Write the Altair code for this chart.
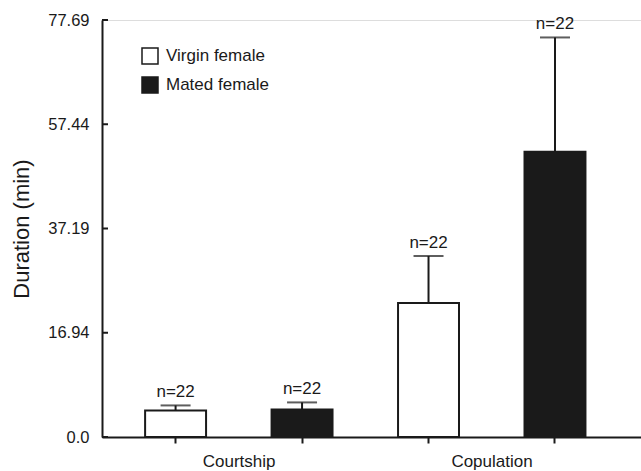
import altair as alt
import pandas as pd

behaviors = ["Courtship", "Courtship", "Copulation", "Copulation"]
groups = ["Virgin female", "Mated female", "Virgin female", "Mated female"]
means = [4.32, 4.48, 22.7, 52.1]
errors = [0.81, 1.14, 9.15, 22.2]
ns = ["n=22", "n=22", "n=22", "n=22"]
y_ticks = [0, 16.94, 37.19, 57.44, 77.69]
group_order = ["Virgin female", "Mated female"]
group_fill = ["white", "#1a1a1a"]

keys = [f"{b}|{g}" for b, g in zip(behaviors, groups)]
df = pd.DataFrame({
    "key": keys, "behavior": behaviors, "group": groups,
    "mean": means, "upper": [m + e for m, e in zip(means, errors)], "n": ns,
})
ticks_df = pd.DataFrame({"v": y_ticks})

FONT = "Liberation Sans"
INK = "#1a1a1a"
H = 417

yscale = alt.Scale(domain=y_ticks, range=[H, H * 0.75, H * 0.5, H * 0.25, 0], nice=False, zero=False)
xscale = alt.Scale(paddingInner=0.518, paddingOuter=0.39, align=0.437)

x_enc = alt.X("key:N", sort=keys, scale=xscale, title=None,
              axis=alt.Axis(labelExpr="indexof(datum.value,'Virgin') >= 0 ? split(datum.value,'|')[0] : ''",
                            labelOffset=63.5, labelAngle=0, tickSize=6, labelPadding=10,
                            labelFont=FONT, labelFontSize=17, labelColor=INK,
                            domainColor=INK, tickColor=INK, domainWidth=2, tickWidth=2,
                            grid=False, labelOverlap=False))

base = alt.Chart(df)

bars = base.mark_bar(stroke=INK, strokeWidth=2).encode(
    x=x_enc,
    y=alt.Y("mean:Q", scale=yscale, title="Duration (min)",
            axis=alt.Axis(values=y_ticks, ticks=False, labelPadding=13,
                          labelExpr="datum.value == 0 ? '0.0' : format(datum.value, '.2f')",
                          labelFont=FONT, labelFontSize=16.5, labelColor=INK,
                          titleFont=FONT, titleFontSize=22, titleFontWeight="normal",
                          titleColor=INK, titleX=-74, titleY=H / 2, titleAngle=270,
                          titleAlign="center", titleBaseline="alphabetic",
                          domainColor=INK, domainWidth=2, grid=False)),
    fill=alt.Fill("group:N", scale=alt.Scale(domain=group_order, range=group_fill),
                  legend=alt.Legend(title=None, orient="none", legendX=39, legendY=27,
                                    symbolType="square", symbolSize=256,
                                    symbolStrokeColor=INK, symbolStrokeWidth=1.5,
                                    labelFont=FONT, labelFontSize=17, labelColor=INK,
                                    labelOffset=7, rowPadding=7, padding=0)),
)

err = base.mark_rule(color=INK, strokeWidth=2).encode(
    x=alt.X("key:N", sort=keys), y="mean:Q", y2="upper:Q")

caps = base.mark_tick(color=INK, orient="horizontal", size=30, thickness=2).encode(
    x=alt.X("key:N", sort=keys), y="upper:Q")

labels = base.mark_text(font=FONT, fontSize=17, color=INK, baseline="bottom", dy=-4).encode(
    x=alt.X("key:N", sort=keys), y="upper:Q", text="n:N")

yt = alt.Chart(ticks_df).mark_rule(color=INK, strokeWidth=2).encode(
    y=alt.Y("v:Q"), x=alt.value(0), x2=alt.value(6))

chart = alt.layer(bars, err, caps, labels, yt).properties(
    width=539, height=H,
    padding={"left": 102, "top": 20, "right": 0, "bottom": 34},
    autosize=alt.AutoSizeParams(type="none"),
).configure_view(stroke=None).configure(background="white")

chart.save("out.html", embed_options={"renderer": "svg", "actions": False})
